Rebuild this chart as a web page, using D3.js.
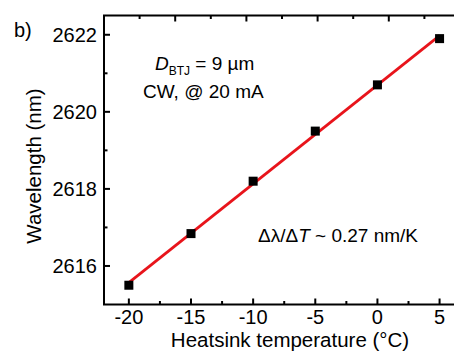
<!DOCTYPE html>
<html>
<head>
<meta charset="utf-8">
<script src="https://cdn.jsdelivr.net/npm/d3@7"></script>
<style>
  body { margin: 0; background: #fff; }
  svg { display: block; font-family: "Liberation Sans", Arial, sans-serif; }
</style>
</head>
<body>
<svg id="chart" width="454" height="353"></svg>
<script>
// data
const temperature = [-20, -15, -10, -5, 0, 5];           // °C
const wavelength = [2615.5, 2616.84, 2618.2, 2619.5, 2620.7, 2621.9]; // nm
const xTickValues = [-20, -15, -10, -5, 0, 5];
const yTickValues = [2616, 2618, 2620, 2622];

const svg = d3.select('#chart');
const plotLeft = 104, plotRight = 460, plotTop = 15.5, plotBottom = 304.5;

const x = d3.scaleLinear().domain([-22, 6]).range([plotLeft, 452]);
const y = d3.scaleLinear().domain([2615, 2622.5]).range([plotBottom, plotTop]);
// top spine has its own unlabelled ticks
const xTop = d3.scaleLinear().domain([0, 10]).range([plotLeft, 460]);

// linear fit of the points
const mx = d3.mean(temperature), my = d3.mean(wavelength);
const slope = d3.sum(temperature, (t, i) => (t - mx) * (wavelength[i] - my)) /
  d3.sum(temperature, t => (t - mx) ** 2);
const fit = t => my + slope * (t - mx);

// frame
svg.append('rect')
  .attr('x', plotLeft).attr('y', plotTop)
  .attr('width', plotRight - plotLeft).attr('height', plotBottom - plotTop)
  .attr('fill', 'none').attr('stroke', '#000').attr('stroke-width', 2);

const tickStyle = g => g.attr('stroke', '#000').attr('stroke-width', 2);

// bottom ticks
const xMinor = d3.range(-20, 6.1, 2.5);
svg.append('g').call(tickStyle).selectAll('line')
  .data(xMinor).join('line')
  .attr('x1', d => x(d)).attr('x2', d => x(d))
  .attr('y1', plotBottom).attr('y2', d => plotBottom - (d % 5 === 0 ? 6 : 3.5));

// top ticks
svg.append('g').call(tickStyle).selectAll('line')
  .data(d3.range(1, 10)).join('line')
  .attr('x1', d => xTop(d)).attr('x2', d => xTop(d))
  .attr('y1', plotTop).attr('y2', d => plotTop + (d % 2 === 0 ? 6 : 3.5));

// left ticks
svg.append('g').call(tickStyle).selectAll('line')
  .data(d3.range(2616, 2622.1, 1)).join('line')
  .attr('y1', d => y(d)).attr('y2', d => y(d))
  .attr('x1', plotLeft).attr('x2', d => plotLeft + (d % 2 === 0 ? 6 : 3.5));

// tick labels
svg.append('g').selectAll('text')
  .data(xTickValues).join('text')
  .attr('x', d => x(d)).attr('y', 324)
  .attr('text-anchor', 'middle').attr('font-size', 20)
  .text(d => d);

svg.append('g').selectAll('text')
  .data(yTickValues).join('text')
  .attr('x', 97).attr('y', d => y(d) + 7)
  .attr('text-anchor', 'end').attr('font-size', 20)
  .text(d => d);

// axis titles
svg.append('text')
  .attr('x', 290).attr('y', 347)
  .attr('text-anchor', 'middle').attr('font-size', 20.5)
  .text('Heatsink temperature (°C)');

svg.append('text')
  .attr('transform', 'translate(41,166) rotate(-90)')
  .attr('text-anchor', 'middle').attr('font-size', 20.5)
  .text('Wavelength (nm)');

svg.append('text')
  .attr('x', 14).attr('y', 37).attr('font-size', 20)
  .text('b)');

// fit line
svg.append('line')
  .attr('x1', x(-20)).attr('y1', y(fit(-20)))
  .attr('x2', x(5)).attr('y2', y(fit(5)))
  .attr('stroke', '#e8141b').attr('stroke-width', 2.8);

// markers
svg.append('g').selectAll('rect')
  .data(temperature).join('rect')
  .attr('x', (d, i) => x(d) - 4.5).attr('y', (d, i) => y(wavelength[i]) - 4.5)
  .attr('width', 9).attr('height', 9)
  .attr('fill', '#000');

// annotations
const a1 = svg.append('text').attr('x', 155).attr('y', 70).attr('font-size', 19);
a1.append('tspan').attr('font-style', 'italic').text('D');
a1.append('tspan').attr('font-size', 12).attr('dy', 5).text('BTJ');
a1.append('tspan').attr('dy', -5).text(' = 9 µm');

svg.append('text').attr('x', 143).attr('y', 98).attr('font-size', 19)
  .text('CW, @ 20 mA');

const a2 = svg.append('text').attr('x', 258).attr('y', 242).attr('font-size', 19);
a2.append('tspan').text('Δλ/Δ');
a2.append('tspan').attr('font-style', 'italic').text('T');
a2.append('tspan').text(' ~ 0.27 nm/K');
</script>
</body>
</html>
